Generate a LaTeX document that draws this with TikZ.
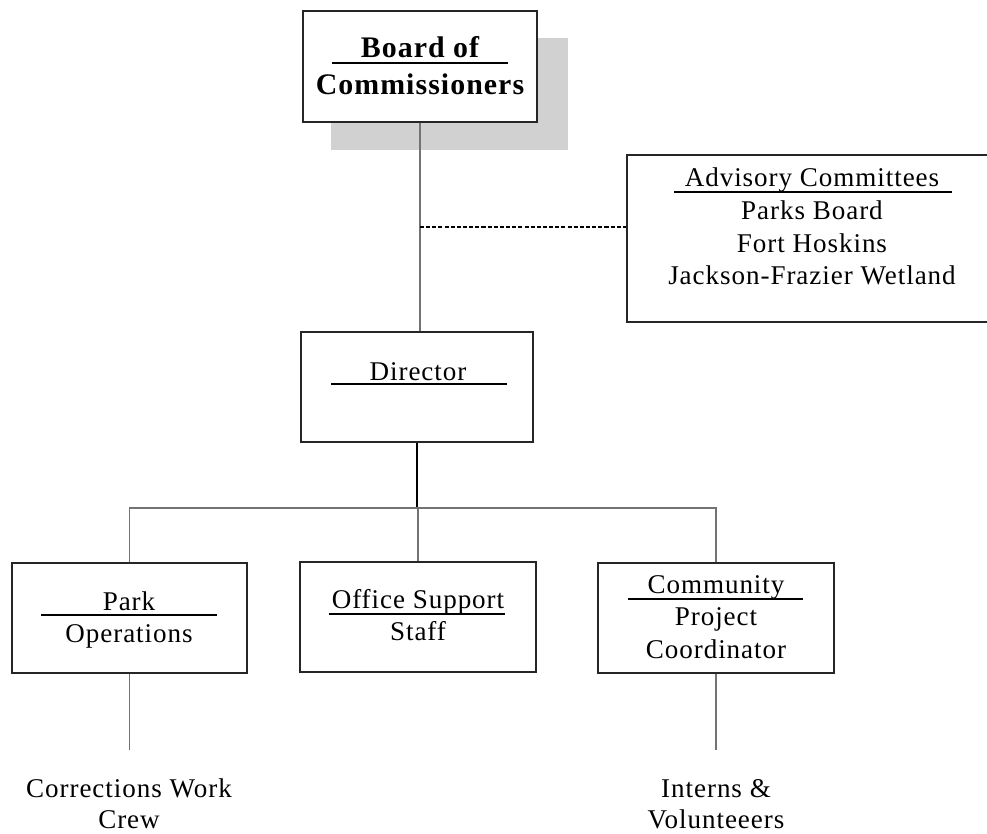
\documentclass[tikz,border=0pt]{standalone}
\usepackage{fontspec}
\setmainfont{Liberation Serif}[LetterSpace=3.5]
\usetikzlibrary{positioning}

\begin{document}
\begin{tikzpicture}[
    x=0.02cm, y=-0.02cm, % one unit = one pixel of the chart
    font=\fontsize{15.4}{19}\selectfont,
    % styles
    box/.style={
        draw=black!85,
        line width=1.2pt,
        fill=white,
        inner sep=0pt
    },
    link/.style={draw=black!55, line width=0.6pt},
    rulebar/.style={line width=1.2pt},
    txt/.style={anchor=base, inner sep=0pt},
    head/.style={txt, font=\fontsize{17}{20}\selectfont\bfseries}
]
    \useasboundingbox (0,0) rectangle (987,834);

    % --- 1. Board of Commissioners (top) ---
    \fill[black!18] (331,38) rectangle (568,150); % shadow
    \node[box, minimum width=4.68cm, minimum height=2.22cm] (board) at (420,66.5) {};
    \node[head] (board_t1) at (420,58) {Board of};
    \node[head] (board_t2) at (420,95) {Commissioners};
    \draw[rulebar] (332,63) -- (508,63);

    % --- 2. Advisory Committees (right) ---
    \node[box, minimum width=7.4cm, minimum height=3.34cm] (adv) at (812,238.5) {};
    \node[txt] (adv_t1) at (812,187) {Advisory Committees};
    \node[txt] (adv_t2) at (812,220) {Parks Board};
    \node[txt] (adv_t3) at (812,253) {Fort Hoskins};
    \node[txt] (adv_t4) at (812,285) {Jackson-Frazier Wetland};
    \draw[rulebar] (674,192) -- (952,192);

    % --- 3. Director ---
    \node[box, minimum width=4.64cm, minimum height=2.2cm] (director) at (417,387) {};
    \node[txt] (dir_t1) at (418,380) {Director};
    \draw[rulebar] (331,384) -- (507,384);

    % --- 4. Sections (bottom row) ---
    \node[box, minimum width=4.7cm, minimum height=2.2cm] (park) at (129.5,618) {};
    \node[txt] (park_t1) at (129,610) {Park};
    \node[txt] (park_t2) at (129,642) {Operations};
    \draw[rulebar] (41,615) -- (217,615);

    \node[box, minimum width=4.72cm, minimum height=2.2cm] (office) at (418,617) {};
    \node[txt] (office_t1) at (418,608) {Office Support};
    \node[txt] (office_t2) at (418,640) {Staff};
    \draw[rulebar] (329,614) -- (505,614);

    \node[box, minimum width=4.72cm, minimum height=2.2cm] (comm) at (716,618) {};
    \node[txt] (comm_t1) at (716,593) {Community};
    \node[txt] (comm_t2) at (716,625) {Project};
    \node[txt] (comm_t3) at (716,658) {Coordinator};
    \draw[rulebar] (628,599) -- (803,599);

    % --- 5. Groups under the sections ---
    \node[txt] (crew_t1) at (129,797) {Corrections Work};
    \node[txt] (crew_t2) at (129,828) {Crew};
    \node[txt] (vol_t1) at (716,797) {Interns \&};
    \node[txt] (vol_t2) at (716,828) {Volunteeers};

    % --- 6. Connectors ---
    \coordinate (tap) at (420,227);
    \coordinate (junc) at (418,508);
    \coordinate (crew_end) at (129.5,750);
    \coordinate (vol_end) at (716,750);

    \draw[link] (board.south) -- (board.south |- director.north);
    \draw[dash pattern=on 2.3pt off 1.2pt, line width=0.6pt] (tap) -- (tap -| adv.west);
    \draw[line width=1.1pt] (director.south) -- (director.south |- junc);
    \draw[link] (park.north) |- (junc) -| (comm.north);
    \draw[link] (junc) -- (office.north);
    \draw[link] (park.south) -- (crew_end);
    \draw[link] (comm.south) -- (vol_end);

\end{tikzpicture}
\end{document}
